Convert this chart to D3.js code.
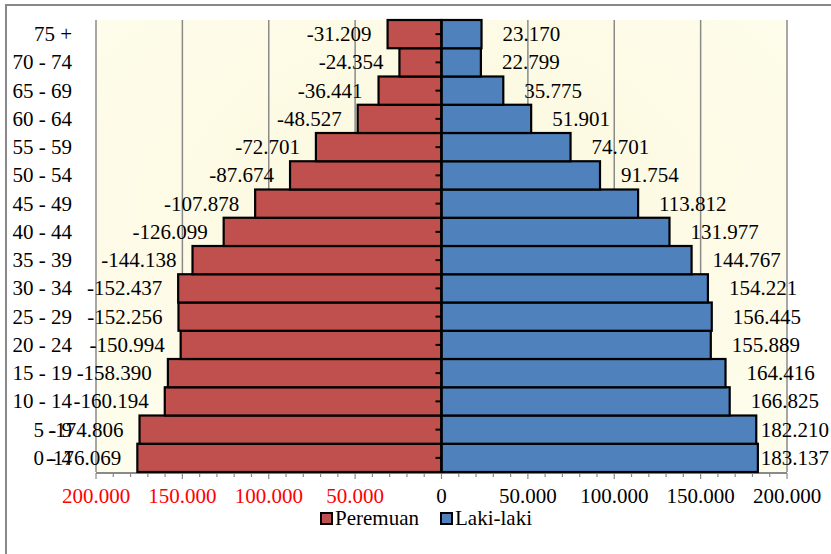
<!DOCTYPE html>
<html>
<head>
<meta charset="utf-8">
<script src="https://cdn.jsdelivr.net/npm/d3@7"></script>
<style>
  html, body { margin: 0; padding: 0; background: #ffffff; }
  svg { display: block; }
</style>
</head>
<body>
<svg id="chart" width="831" height="554" font-family="'Liberation Serif', 'DejaVu Serif', 'Times New Roman', Times, serif"></svg>
<script>
// ---------- DATA ----------
const categories = ["0 - 4","5 - 9","10 - 14","15 - 19","20 - 24","25 - 29","30 - 34","35 - 39","40 - 44","45 - 49","50 - 54","55 - 59","60 - 64","65 - 69","70 - 74","75 +"];
const perempuan = [176069,174806,160194,158390,150994,152256,152437,144138,126099,107878,87674,72701,48527,36441,24354,31209];
const lakiLaki  = [183137,182210,166825,164416,155889,156445,154221,144767,131977,113812,91754,74701,51901,35775,22799,23170];
const xTicks = [-200000,-150000,-100000,-50000,0,50000,100000,150000,200000];
const seriesNames = ["Peremuan","Laki-laki"];

// ---------- SETUP ----------
const plot = {left: 96, right: 787, top: 20, bottom: 472};
const fontSize = 21;
const colF = "#C0504D", colM = "#4F81BD";
const gridCol = "#8a8a8a";

const loc = d3.formatLocale({decimal: ",", thousands: ".", grouping: [3], currency: ["", ""], minus: "-"});
const fmt = loc.format(",d");

const svg = d3.select("#chart");

const x = d3.scaleLinear().domain([-200000, 200000]).range([plot.left, plot.right]);
const y = d3.scaleBand().domain(categories.slice().reverse()).range([plot.top, plot.bottom]).padding(0);

// Outer chart border (cropped at right/bottom)
svg.append("rect").attr("x", 6).attr("y", 5).attr("width", 840).attr("height", 560)
  .attr("fill", "#fff").attr("stroke", "#888").attr("stroke-width", 2);

// Plot background
const defs = svg.append("defs");
const grad = defs.append("radialGradient").attr("id", "bg").attr("cx", "50%").attr("cy", "40%").attr("r", "70%");
grad.append("stop").attr("offset", "0%").attr("stop-color", "#FCF8DE");
grad.append("stop").attr("offset", "100%").attr("stop-color", "#FEFDEC");
svg.append("rect").attr("x", plot.left).attr("y", plot.top)
  .attr("width", plot.right - plot.left).attr("height", plot.bottom - plot.top)
  .attr("fill", "url(#bg)");

// Vertical gridlines
svg.append("g").selectAll("line").data(xTicks.filter(d => d !== 0)).join("line")
  .attr("x1", d => x(d)).attr("x2", d => x(d))
  .attr("y1", plot.top).attr("y2", plot.bottom)
  .attr("stroke", gridCol).attr("stroke-width", 1.5);

// Bottom value axis
const minorTicks = d3.range(-200000, 200001, 10000);
const axisG = svg.append("g");
axisG.append("line").attr("x1", plot.left).attr("x2", plot.right)
  .attr("y1", plot.bottom + 1).attr("y2", plot.bottom + 1)
  .attr("stroke", gridCol).attr("stroke-width", 2);
axisG.selectAll("line.minor").data(minorTicks).join("line").attr("class", "minor")
  .attr("x1", d => x(d)).attr("x2", d => x(d))
  .attr("y1", plot.bottom + 1).attr("y2", d => plot.bottom + (d % 50000 === 0 ? 7 : 5))
  .attr("stroke", gridCol).attr("stroke-width", 1.2);
axisG.selectAll("text").data(xTicks).join("text")
  .attr("x", d => x(d)).attr("y", 503)
  .attr("text-anchor", "middle").attr("font-size", fontSize)
  .attr("fill", d => d < 0 ? "#FF0000" : "#000")
  .text(d => fmt(Math.abs(d)));

// Bars
const rows = categories.map((c, i) => ({cat: c, f: perempuan[i], m: lakiLaki[i]}));
const barG = svg.append("g");
barG.selectAll("rect.f").data(rows).join("rect").attr("class", "f")
  .attr("x", d => x(-d.f)).attr("width", d => x(0) - x(-d.f))
  .attr("y", d => y(d.cat)).attr("height", y.bandwidth())
  .attr("fill", colF).attr("stroke", "#000").attr("stroke-width", 2.2);
barG.selectAll("rect.m").data(rows).join("rect").attr("class", "m")
  .attr("x", x(0)).attr("width", d => x(d.m) - x(0))
  .attr("y", d => y(d.cat)).attr("height", y.bandwidth())
  .attr("fill", colM).attr("stroke", "#000").attr("stroke-width", 2.2);

// Center category axis with ticks
svg.append("line").attr("x1", x(0)).attr("x2", x(0))
  .attr("y1", plot.top - 1).attr("y2", plot.bottom + 1)
  .attr("stroke", "#000").attr("stroke-width", 2.2);
svg.append("g").selectAll("line").data(categories).join("line")
  .attr("x1", x(0) - 6).attr("x2", x(0))
  .attr("y1", d => y(d) + y.bandwidth() / 2).attr("y2", d => y(d) + y.bandwidth() / 2)
  .attr("stroke", "#000").attr("stroke-width", 2);
svg.append("line").attr("x1", x(0) - 6).attr("x2", x(0))
  .attr("y1", plot.bottom).attr("y2", plot.bottom)
  .attr("stroke", "#000").attr("stroke-width", 2);

// Category labels
svg.append("g").selectAll("text").data(categories).join("text")
  .attr("x", 72).attr("y", d => y(d) + y.bandwidth() / 2 + 7)
  .attr("text-anchor", "end").attr("font-size", fontSize).attr("fill", "#000")
  .text(d => d);

// Data labels
const lblG = svg.append("g");
lblG.selectAll("text.f").data(rows).join("text").attr("class", "f")
  .attr("x", d => x(-d.f) - 16).attr("y", d => y(d.cat) + y.bandwidth() / 2 + 7)
  .attr("text-anchor", "end").attr("font-size", fontSize).attr("fill", "#000")
  .text(d => fmt(-d.f));
lblG.selectAll("text.m").data(rows).join("text").attr("class", "m")
  .attr("y", d => y(d.cat) + y.bandwidth() / 2 + 7)
  .attr("text-anchor", "start").attr("font-size", fontSize).attr("fill", "#000")
  .text(d => fmt(d.m))
  .attr("x", function(d) {
    const w = this.getComputedTextLength();
    return Math.min(x(d.m) + 21, 829 - w);
  });

// Legend
const legend = svg.append("g");
const legItems = [{name: seriesNames[0], col: colF, x: 321}, {name: seriesNames[1], col: colM, x: 441}];
legend.selectAll("rect").data(legItems).join("rect")
  .attr("x", d => d.x).attr("y", 513).attr("width", 11).attr("height", 11)
  .attr("fill", d => d.col).attr("stroke", "#000").attr("stroke-width", 2);
legend.selectAll("text").data(legItems).join("text")
  .attr("x", d => d.x + 14).attr("y", 525)
  .attr("font-size", fontSize).attr("fill", "#000")
  .text(d => d.name);
</script>
</body>
</html>
